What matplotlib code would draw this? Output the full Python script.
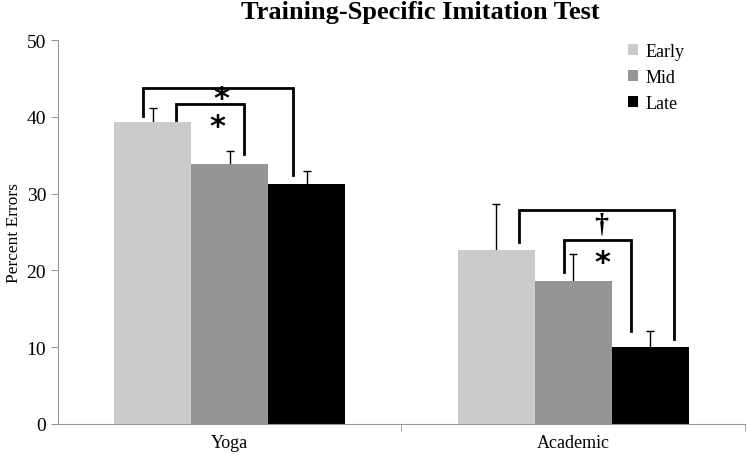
import matplotlib.pyplot as plt
import numpy as np

plt.rcParams['font.family'] = ['Liberation Serif', 'DejaVu Serif']

categories = ['Yoga', 'Academic']
phases = ['Early', 'Mid', 'Late']
means = {'Early': [39.3, 22.7], 'Mid': [33.8, 18.6], 'Late': [31.3, 10.0]}
errors = {'Early': [1.8, 6.0], 'Mid': [1.8, 3.6], 'Late': [1.6, 2.1]}
colors = {'Early': '#cbcbcb', 'Mid': '#959595', 'Late': '#000000'}

fig = plt.figure(figsize=(7.5, 4.56), dpi=100)
ax = fig.add_axes([0.0773, 0.068, 0.916, 0.842])

x = np.arange(len(categories))
width = 0.224
for i, p in enumerate(phases):
    pos = x + (i - 1) * width
    ax.bar(pos, means[p], width, color=colors[p], label=p, zorder=2)
    # errorbar behind the bar so only the upper half shows
    ax.errorbar(pos, means[p], yerr=errors[p], fmt='none',
                ecolor='black', elinewidth=1, capsize=3, capthick=1, zorder=1)


def bracket(x1, y1, x2, y2, top):
    ax.plot([x1, x1, x2, x2], [y1, top, top, y2], color='black', lw=2,
            solid_joinstyle='miter', zorder=4)


# Yoga brackets
bracket(-0.253, 40.1, 0.183, 32.4, 43.7)
bracket(-0.156, 39.6, 0.042, 35.2, 41.7)
ax.text(-0.023, 42.4, '*', ha='center', va='center', fontsize=22,
        fontweight='bold', family='DejaVu Sans')
ax.text(-0.037, 38.8, '*', ha='center', va='center', fontsize=22,
        fontweight='bold', family='DejaVu Sans')
# Academic brackets
bracket(0.843, 23.7, 1.294, 11.1, 27.9)
bracket(0.974, 19.75, 1.168, 12.1, 24.0)
ax.text(1.083, 26.1, '†', ha='center', va='center', fontsize=20,
        fontweight='bold')
ax.text(1.086, 21.0, '*', ha='center', va='center', fontsize=22,
        fontweight='bold', family='DejaVu Sans')

ax.set_xlim(-0.5, 1.5)
ax.set_ylim(0, 50)
ax.set_yticks(np.arange(0, 51, 10))
ax.set_xticks(x)
ax.set_xticklabels(categories)
ax.set_xticks([0.5, 1.5], minor=True)
ax.tick_params(axis='x', which='major', length=0, labelsize=13, pad=7)
ax.tick_params(axis='x', which='minor', length=5, color='#999999')
ax.tick_params(axis='y', length=5, color='#999999', labelsize=14)
for s in ['top', 'right']:
    ax.spines[s].set_visible(False)
for s in ['left', 'bottom']:
    ax.spines[s].set_color('#999999')

ax.set_ylabel('Percent Errors', fontsize=12.5)
ax.yaxis.set_label_coords(-0.053, 0.5)
fig.text(0.56, 0.972, 'Training-Specific Imitation Test', ha='center',
         va='center', fontsize=19, fontweight='bold')

ax.legend(loc='upper right', bbox_to_anchor=(0.935, 1.035), frameon=False,
          fontsize=13, handlelength=0.55, handleheight=0.55, handletextpad=0.4,
          labelspacing=0.5)

fig.savefig('out.png', dpi=100)
